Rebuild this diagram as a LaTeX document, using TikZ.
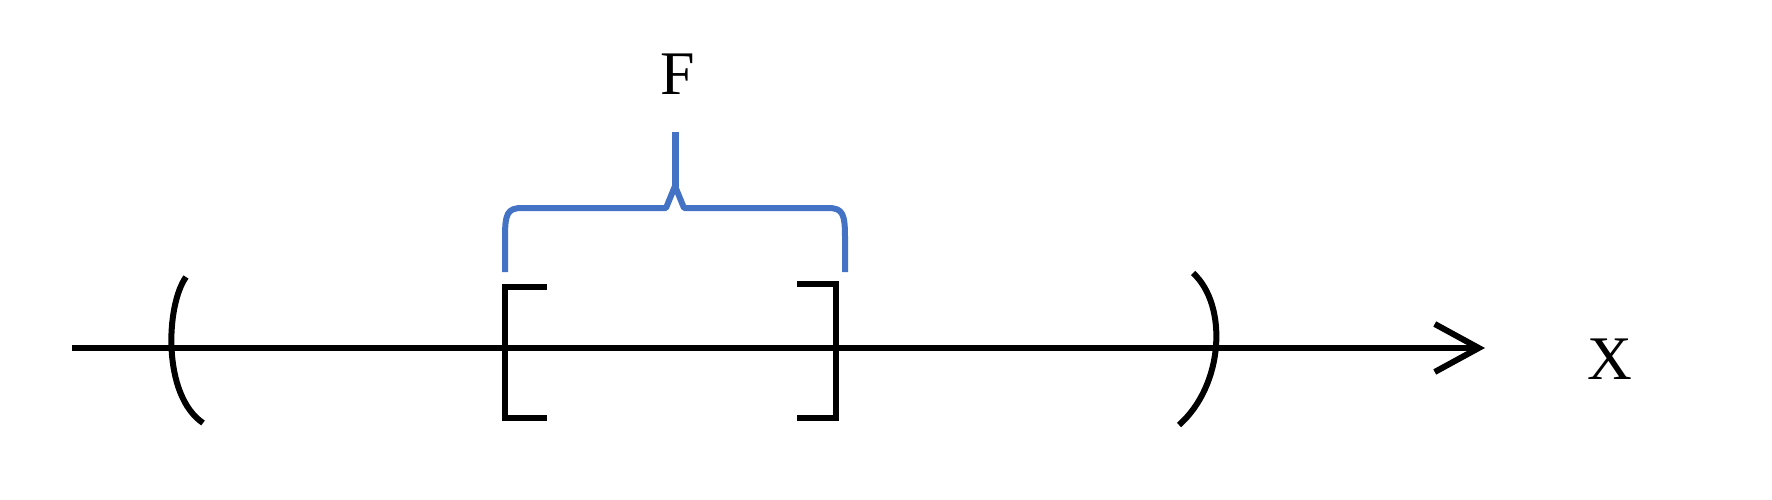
\documentclass[tikz,border=0pt]{standalone}
\usepackage{fontspec}
\setmainfont{Liberation Serif}
\usetikzlibrary{arrows.meta}
\definecolor{braceblue}{RGB}{68,114,196}
\tikzset{
  axisline/.style={line width=6pt, black, -{Straight Barb[length=44pt,width=48pt,line width=6pt]}},
  bracketline/.style={line width=6pt, black, line join=miter},
  parenline/.style={line width=6pt, black},
  braceline/.style={line width=6pt, braceblue, line join=round},
  lbl/.style={font=\fontsize{62}{62}\selectfont, inner sep=0pt}
}
\begin{document}
\begin{tikzpicture}[x=1pt,y=-1pt]
\useasboundingbox (0,0) rectangle (1772,500);
% axis
\coordinate (axstart) at (72,348);
\coordinate (axend) at (1485,348);
\draw[axisline] (axstart) -- (axend);
\node[lbl] (xlabel) at (1610,359) {X};
\node[lbl] (flabel) at (678,74) {F};
% left parenthesis
\draw[parenline] (186,277) .. controls (166,305) and (162,395) .. (203,423);
% right parenthesis
\draw[parenline] (1193,273) .. controls (1228,305) and (1224,385) .. (1179,425);
% brackets
\draw[bracketline] (547,287) -- (505,287) -- (505,418) -- (547,418);
\draw[bracketline] (797,284) -- (836,284) -- (836,418) -- (797,418);
% brace
\draw[braceline] (505,272) -- (505,238) .. controls (505,214) and (507,208) .. (522,208) -- (666,208) -- (675,186) -- (684,208) -- (828,208) .. controls (843,208) and (845,214) .. (845,238) -- (845,272);
\draw[braceline, line width=7pt, line cap=butt] (675,132) -- (675,192);
\end{tikzpicture}
\end{document}
